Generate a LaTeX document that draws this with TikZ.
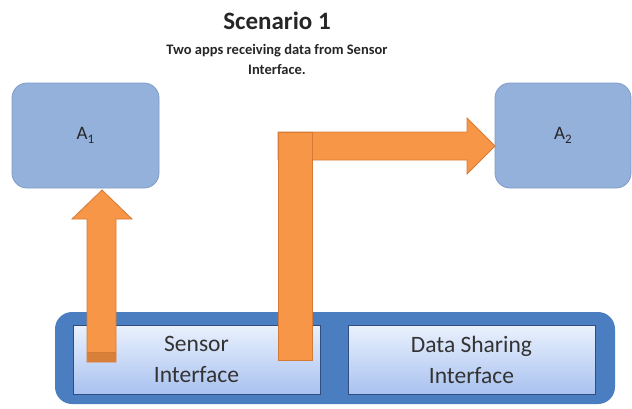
\documentclass[tikz,border=0pt]{standalone}
\usepackage{fontspec}
\setmainfont{Carlito}
\definecolor{appfill}{HTML}{93B1DA}
\definecolor{appedge}{HTML}{7F9DC8}
\definecolor{basefill}{HTML}{4A7EC0}
\definecolor{paneltop}{HTML}{EAF1FD}
\definecolor{panelbot}{HTML}{A9C2F0}
\definecolor{paneledge}{HTML}{2F4D7E}
\definecolor{flow}{HTML}{F79646}
\definecolor{flowedge}{HTML}{D57A35}
\definecolor{flowdark}{HTML}{D8803A}
\definecolor{ink}{HTML}{333333}
\newcommand{\appsub}[1]{\raisebox{-0.45ex}{\fontsize{13}{13}\selectfont #1}}
\tikzset{
  appbox/.style={draw=appedge, line width=0.8pt, fill=appfill, rounded corners=15pt,
    font=\fontsize{19}{22}\selectfont, text=black!85},
  basebox/.style={fill=basefill, rounded corners=17pt},
  panel/.style={draw=paneledge, line width=1pt, top color=paneltop, bottom color=panelbot,
    align=center, font=\fontsize{23.5}{31}\selectfont, text=ink},
  flowshape/.style={fill=flow, draw=flowedge, line width=0.8pt, line join=miter},
}
\begin{document}
\begin{tikzpicture}[x=1pt,y=-1pt]
\useasboundingbox (0,0) rectangle (632,408);

% heading
\node[font=\fontsize{25}{28}\bfseries\selectfont, text=black!85] (title) at (277,21) {Scenario 1};
\node[font=\fontsize{14.5}{20}\bfseries\selectfont, text=black!85, align=center] (sub) at (277,59)
  {Two apps receiving data from Sensor\\Interface.};

% applications
\node[appbox, minimum width=147pt, minimum height=105pt] (A1) at (85.5,135.5) {A\appsub{1}};
\node[appbox, minimum width=136pt, minimum height=105pt] (A2) at (563,135.5) {A\appsub{2}};

% platform with its two interfaces
\node[basebox, minimum width=560pt, minimum height=92pt] (base) at (335,358) {};
\node[panel, minimum width=247pt, minimum height=69pt] (sensor) at (196.5,359.5) {Sensor\\Interface};
\node[panel, minimum width=247pt, minimum height=69pt] (share) at (471.5,359.5) {Data Sharing\\Interface};

% data flow up to A1
\coordinate (tip1) at (102,190);
\draw[flowshape] (87,362) -- (87,219) -- (72,219) -- (tip1) -- (132,219) -- (116,219) -- (116,362) -- cycle;
\fill[flowdark] (87.4,352) rectangle (115.6,361.6);
\draw[flowedge, line width=0.6pt] (87.4,352) -- (115.6,352);

% data flow across to A2
\coordinate (tip2) at (495,146);
\draw[flowshape] (278,132) -- (467,132) -- (467,118) -- (tip2) -- (467,174) -- (467,160) -- (278,160) -- cycle;
\draw[flowshape] (278,132) rectangle (312,360);
\end{tikzpicture}
\end{document}
